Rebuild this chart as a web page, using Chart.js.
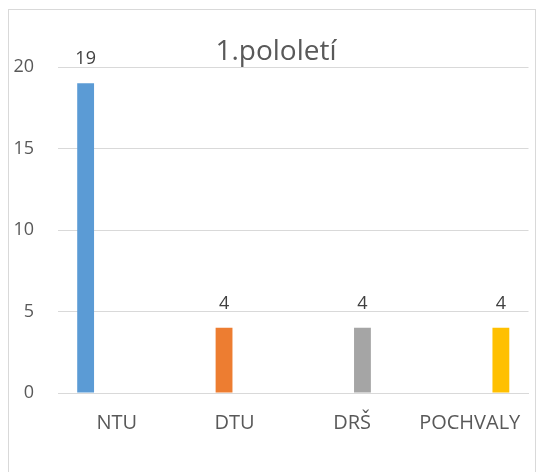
<!DOCTYPE html>
<html>
<head>
<meta charset="utf-8">
<script src="https://cdn.jsdelivr.net/npm/chart.js@4.4.1/dist/chart.umd.min.js"></script>
<style>
  html, body { margin: 0; padding: 0; background: #fff; }
  #wrap { position: relative; width: 539px; height: 472px; }
</style>
</head>
<body>
<div id="wrap"><canvas id="myChart" width="539" height="472"></canvas></div>
<script>
'use strict';

var categories = ['NTU', 'DTU', 'DRŠ', 'POCHVALY'];
var values = [19, 4, 4, 4];
var barColors = ['#5b9bd5', '#ed7d31', '#a5a5a5', '#ffc000'];
var yTicks = [0, 5, 10, 15, 20];
var chartTitle = '1.pololetí';

// Excel puts each category in its own series, so every bar sits in its own slot
function buildDatasets() {
  var sets = [];
  for (var i = 0; i < categories.length; i++) {
    var data = [];
    for (var j = 0; j < categories.length; j++) {
      data.push(i === j ? values[i] : null);
    }
    sets.push({
      label: categories[i],
      data: data,
      backgroundColor: barColors[i],
      categoryPercentage: 0.707,
      barPercentage: 0.81
    });
  }
  return sets;
}

var framePlugin = {
  id: 'frame',
  beforeDraw: function (chart) {
    var ctx = chart.ctx;
    ctx.save();
    ctx.strokeStyle = '#d9d9d9';
    ctx.lineWidth = 1;
    ctx.strokeRect(8.5, 9.5, 527, 480);
    ctx.restore();
  },
  afterDatasetsDraw: function (chart) {
    var ctx = chart.ctx;
    ctx.save();
    ctx.fillStyle = '#404040';
    ctx.font = '18px "Open Sans"';
    ctx.textAlign = 'center';
    ctx.textBaseline = 'middle';
    chart.data.datasets.forEach(function (ds, i) {
      var meta = chart.getDatasetMeta(i);
      meta.data.forEach(function (el, j) {
        if (ds.data[j] === null) return;
        ctx.fillText(String(ds.data[j]), el.x, el.y - 24);
      });
    });
    ctx.fillStyle = '#595959';
    ctx.font = '28px "Open Sans"';
    ctx.textBaseline = 'alphabetic';
    ctx.fillText(chartTitle, 276, 60);
    ctx.restore();
  }
};

var ctx = document.getElementById('myChart').getContext('2d');
var chart = new Chart(ctx, {
  type: 'bar',
  data: {
    labels: categories,
    datasets: buildDatasets()
  },
  options: {
    responsive: false,
    animation: false,
    layout: { padding: { top: 67, right: 6, bottom: 0, left: 0 } },
    plugins: {
      legend: { display: false },
      tooltip: { enabled: false }
    },
    scales: {
      x: {
        grid: { display: false, drawTicks: false },
        border: { display: true, color: '#d9d9d9', width: 1 },
        ticks: {
          color: '#595959',
          font: { family: 'Open Sans', size: 20 },
          padding: 18,
          maxRotation: 0
        },
        afterFit: function (scale) { scale.height = 79; }
      },
      y: {
        min: 0,
        max: 20,
        afterBuildTicks: function (scale) {
          scale.ticks = yTicks.map(function (v) { return { value: v }; });
        },
        grid: { color: '#d9d9d9', drawTicks: false },
        border: { display: false },
        ticks: {
          color: '#595959',
          font: { family: 'Open Sans', size: 18 },
          padding: 24
        },
        afterFit: function (scale) { scale.width = 58; }
      }
    }
  },
  plugins: [framePlugin]
});
</script>
</body>
</html>
